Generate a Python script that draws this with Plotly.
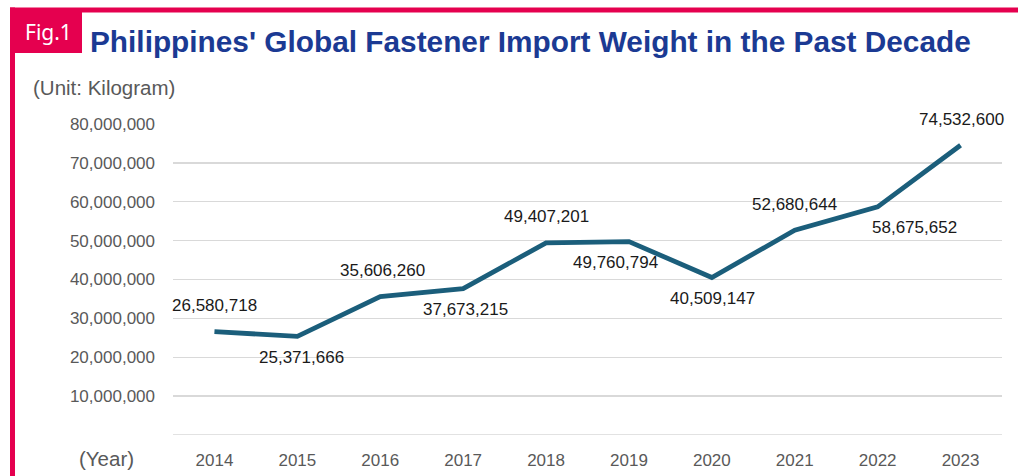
import plotly.graph_objects as go

# ---- data ----
years = ["2014", "2015", "2016", "2017", "2018", "2019", "2020", "2021", "2022", "2023"]
weights = [26580718, 25371666, 35606260, 37673215, 49407201, 49760794, 40509147, 52680644, 58675652, 74532600]
y_ticks = [0, 10000000, 20000000, 30000000, 40000000, 50000000, 60000000, 70000000, 80000000]
y_tick_text = ["", "10,000,000", "20,000,000", "30,000,000", "40,000,000", "50,000,000", "60,000,000", "70,000,000", "80,000,000"]

# ---- style ----
W, H = 1018, 476
L, R, T, B = 173, 16, 124, 41
PW, PH = W - L - R, H - T - B
PINK = "#e5004f"
LINE = "#1b5e7b"
GRID = "#d9d9d9"
FONT = "Liberation Sans, Arial, sans-serif"
label_pos = ["above", "below", "above", "below", "above", "below", "below", "above", "below", "above"]
label_dx = [0, 4, 2, 2, 0, -13, 1, 0, 37, 1]


def px(x):
    return (x - L) / PW


def py(y):
    return (H - B - y) / PH


fig = go.Figure()
fig.add_trace(go.Scatter(
    x=years, y=weights, mode="lines",
    line=dict(color=LINE, width=4.8),
    hoverinfo="skip", showlegend=False,
))

annotations = []
for i, (v, pos, dx) in enumerate(zip(weights, label_pos, label_dx)):
    annotations.append(dict(
        x=i, y=v, xref="x", yref="y", text=f"{v:,}", showarrow=False,
        font=dict(family=FONT, size=17, color="#1a1a1a"),
        xshift=dx, yshift=26 if pos == "above" else -21,
        xanchor="center", yanchor="middle",
    ))

annotations += [
    dict(x=px(88), y=py(41), xref="paper", yref="paper", xanchor="left", yanchor="middle",
         text="<b>Philippines' Global Fastener Import Weight in the Past Decade</b>",
         showarrow=False, font=dict(family=FONT, size=29.8, color="#1b3a93")),
    dict(x=px(48.5), y=py(32), xref="paper", yref="paper", xanchor="center", yanchor="middle",
         text="Fig.1", showarrow=False, font=dict(family="Noto Sans, sans-serif", size=21, color="white")),
    dict(x=px(31), y=py(87), xref="paper", yref="paper", xanchor="left", yanchor="middle",
         text="(Unit: Kilogram)", showarrow=False, font=dict(family=FONT, size=20.5, color="#595959")),
    dict(x=px(106), y=py(458), xref="paper", yref="paper", xanchor="center", yanchor="middle",
         text="(Year)", showarrow=False, font=dict(family=FONT, size=20.5, color="#595959")),
]

shapes = [
    dict(type="line", xref="paper", yref="y", x0=0, x1=1, y0=y_ticks[0], y1=y_ticks[0],
         line=dict(color=GRID, width=1.3), layer="below"),
    dict(type="rect", xref="paper", yref="paper", x0=px(10), x1=px(W + 5), y0=py(12.5), y1=py(7.5),
         fillcolor=PINK, line=dict(width=0), layer="above"),
    dict(type="rect", xref="paper", yref="paper", x0=px(10), x1=px(15), y0=py(H + 5), y1=py(7.5),
         fillcolor=PINK, line=dict(width=0), layer="above"),
    dict(type="rect", xref="paper", yref="paper", x0=px(15), x1=px(82), y0=py(53), y1=py(12),
         fillcolor=PINK, line=dict(width=0), layer="above"),
]

fig.update_layout(
    width=W, height=H,
    margin=dict(l=L, r=R, t=T, b=B, autoexpand=False),
    paper_bgcolor="white", plot_bgcolor="white",
    annotations=annotations, shapes=shapes,
    font=dict(family=FONT),
)
fig.update_xaxes(
    type="category", range=[-0.5, len(years) - 0.5], automargin=False,
    showgrid=False, zeroline=False, showline=False,
    tickfont=dict(family=FONT, size=17, color="#595959"),
    ticks="", ticklabelstandoff=13,
)
fig.update_yaxes(
    range=[0, 80000000], tickvals=y_ticks, ticktext=y_tick_text, automargin=False,
    showgrid=True, gridcolor=GRID, gridwidth=1.3,
    zeroline=False, showline=False,
    tickfont=dict(family=FONT, size=17, color="#595959"),
    ticks="", ticklabelstandoff=17,
)

fig.write_html(
    "out.html",
    config={"staticPlot": True},
    post_script="document.body.style.margin='0';document.body.style.overflow='hidden';",
)
